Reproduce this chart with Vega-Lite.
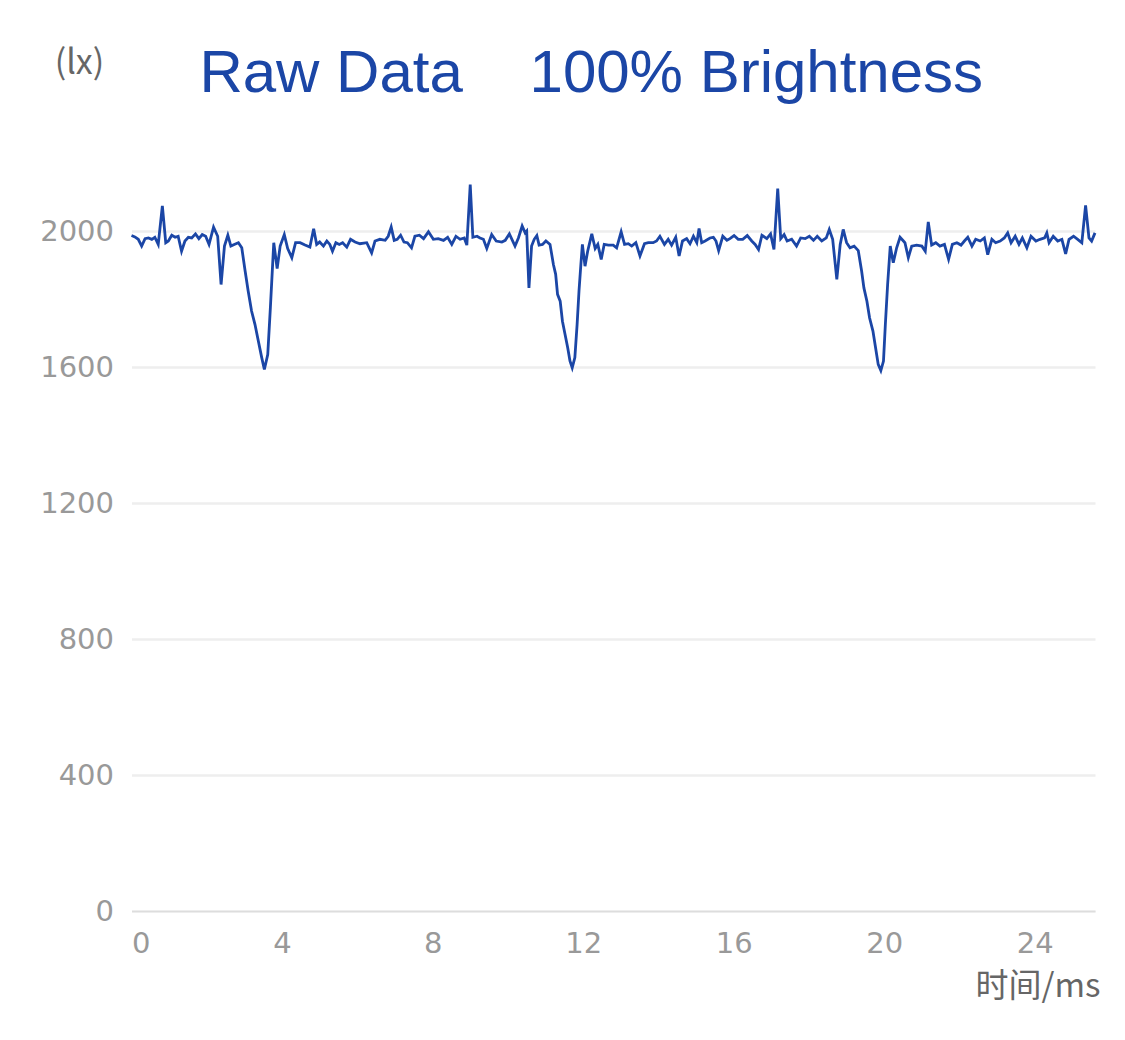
{
"$schema": "https://vega.github.io/schema/vega-lite/v6.json",
"width": 963.5,
"height": 911,
"autosize": {"type": "none"},
"padding": {"left": 131.5, "top": 0, "right": 30, "bottom": 129},
"background": "white",
"config": {"view": {"stroke": null}},
"title": {"text": "Raw Data\u00a0\u00a0\u00a0\u00a0100% Brightness", "font": "Liberation Sans", "fontSize": 60, "fontWeight": "normal", "color": "#1b46a6", "anchor": "middle", "frame": "group", "dx": -22, "dy": 57, "offset": -95, "baseline": "alphabetic"},
"data": {"values": [
{"t":0.00,"v":1987},{"t":0.09,"v":1983},{"t":0.18,"v":1976},{"t":0.27,"v":1956},{"t":0.36,"v":1978},{"t":0.45,"v":1980},{"t":0.54,"v":1976},{"t":0.62,"v":1982},{"t":0.71,"v":1961},{"t":0.82,"v":2074},{"t":0.91,"v":1966},{"t":0.98,"v":1971},{"t":1.07,"v":1988},{"t":1.16,"v":1982},{"t":1.24,"v":1985},{"t":1.33,"v":1941},{"t":1.42,"v":1971},{"t":1.51,"v":1982},{"t":1.60,"v":1980},{"t":1.70,"v":1992},{"t":1.79,"v":1978},{"t":1.88,"v":1990},{"t":1.97,"v":1985},{"t":2.06,"v":1961},{"t":2.18,"v":2012},{"t":2.29,"v":1985},{"t":2.38,"v":1843},{"t":2.47,"v":1956},{"t":2.56,"v":1988},{"t":2.64,"v":1956},{"t":2.73,"v":1961},{"t":2.84,"v":1966},{"t":2.93,"v":1951},{"t":3.02,"v":1882},{"t":3.10,"v":1824},{"t":3.19,"v":1765},{"t":3.28,"v":1726},{"t":3.37,"v":1677},{"t":3.46,"v":1628},{"t":3.53,"v":1593},{"t":3.62,"v":1637},{"t":3.69,"v":1775},{"t":3.78,"v":1966},{"t":3.87,"v":1890},{"t":3.95,"v":1956},{"t":4.06,"v":1990},{"t":4.15,"v":1949},{"t":4.26,"v":1922},{"t":4.36,"v":1966},{"t":4.48,"v":1966},{"t":4.61,"v":1959},{"t":4.74,"v":1953},{"t":4.84,"v":2007},{"t":4.92,"v":1961},{"t":5.00,"v":1968},
{"t":5.10,"v":1956},{"t":5.19,"v":1971},{"t":5.27,"v":1961},{"t":5.34,"v":1941},{"t":5.43,"v":1966},{"t":5.52,"v":1961},{"t":5.61,"v":1966},{"t":5.72,"v":1953},{"t":5.82,"v":1976},{"t":5.94,"v":1968},{"t":6.07,"v":1963},{"t":6.25,"v":1966},{"t":6.38,"v":1936},{"t":6.47,"v":1971},{"t":6.60,"v":1976},{"t":6.74,"v":1973},{"t":6.82,"v":1985},{"t":6.90,"v":2012},{"t":6.98,"v":1973},{"t":7.06,"v":1976},{"t":7.15,"v":1988},{"t":7.24,"v":1968},{"t":7.33,"v":1966},{"t":7.44,"v":1951},{"t":7.53,"v":1985},{"t":7.65,"v":1988},{"t":7.76,"v":1978},{"t":7.89,"v":1998},{"t":8.02,"v":1976},{"t":8.15,"v":1978},{"t":8.29,"v":1973},{"t":8.40,"v":1982},{"t":8.51,"v":1961},{"t":8.62,"v":1985},{"t":8.73,"v":1976},{"t":8.84,"v":1980},{"t":8.91,"v":1959},{"t":9.00,"v":2137},{"t":9.07,"v":1982},{"t":9.18,"v":1985},{"t":9.26,"v":1980},{"t":9.35,"v":1976},{"t":9.44,"v":1949},{"t":9.57,"v":1990},{"t":9.69,"v":1971},{"t":9.84,"v":1968},{"t":9.93,"v":1973},{"t":10.04,"v":1992},{"t":10.19,"v":1956},
{"t":10.28,"v":1980},{"t":10.38,"v":2015},{"t":10.46,"v":1995},{"t":10.50,"v":2000},{"t":10.56,"v":1833},{"t":10.63,"v":1956},{"t":10.70,"v":1976},{"t":10.77,"v":1987},{"t":10.83,"v":1959},{"t":10.92,"v":1961},{"t":11.01,"v":1971},{"t":11.12,"v":1961},{"t":11.21,"v":1902},{"t":11.27,"v":1873},{"t":11.32,"v":1814},{"t":11.39,"v":1794},{"t":11.45,"v":1735},{"t":11.52,"v":1696},{"t":11.59,"v":1657},{"t":11.65,"v":1618},{"t":11.71,"v":1598},{"t":11.78,"v":1628},{"t":11.84,"v":1726},{"t":11.89,"v":1824},{"t":11.94,"v":1902},{"t":11.98,"v":1961},{"t":12.05,"v":1897},{"t":12.12,"v":1941},{"t":12.23,"v":1992},{"t":12.32,"v":1949},{"t":12.39,"v":1961},{"t":12.48,"v":1917},{"t":12.56,"v":1961},{"t":12.67,"v":1959},{"t":12.80,"v":1959},{"t":12.89,"v":1951},{"t":13.01,"v":1998},{"t":13.10,"v":1961},{"t":13.20,"v":1963},{"t":13.29,"v":1956},{"t":13.40,"v":1966},{"t":13.51,"v":1927},{"t":13.63,"v":1963},{"t":13.73,"v":1966},{"t":13.86,"v":1966},{"t":13.95,"v":1971},{"t":14.04,"v":1985},{"t":14.16,"v":1961},{"t":14.26,"v":1976},{"t":14.35,"v":1959},{"t":14.46,"v":1982},{"t":14.55,"v":1927},{"t":14.64,"v":1971},{"t":14.75,"v":1978},{"t":14.84,"v":1963},{"t":14.93,"v":1985},{"t":15.02,"v":1966},{"t":15.08,"v":2008},{"t":15.15,"v":1966},{"t":15.24,"v":1971},{"t":15.37,"v":1980},
{"t":15.46,"v":1982},{"t":15.53,"v":1971},{"t":15.60,"v":1943},{"t":15.71,"v":1985},{"t":15.82,"v":1973},{"t":15.90,"v":1978},{"t":16.01,"v":1987},{"t":16.12,"v":1976},{"t":16.24,"v":1976},{"t":16.36,"v":1987},{"t":16.48,"v":1971},{"t":16.57,"v":1961},{"t":16.66,"v":1946},{"t":16.75,"v":1988},{"t":16.88,"v":1978},{"t":16.98,"v":1992},{"t":17.07,"v":1946},{"t":17.17,"v":2125},{"t":17.25,"v":1978},{"t":17.34,"v":1990},{"t":17.42,"v":1971},{"t":17.54,"v":1976},{"t":17.67,"v":1956},{"t":17.78,"v":1980},{"t":17.90,"v":1978},{"t":18.01,"v":1985},{"t":18.12,"v":1973},{"t":18.22,"v":1985},{"t":18.34,"v":1971},{"t":18.46,"v":1980},{"t":18.54,"v":2005},{"t":18.63,"v":1976},{"t":18.74,"v":1858},{"t":18.83,"v":1961},{"t":18.91,"v":2005},{"t":19.00,"v":1966},{"t":19.09,"v":1951},{"t":19.20,"v":1956},{"t":19.31,"v":1943},{"t":19.40,"v":1882},{"t":19.46,"v":1833},{"t":19.54,"v":1794},{"t":19.61,"v":1745},{"t":19.70,"v":1706},{"t":19.77,"v":1657},{"t":19.84,"v":1608},{"t":19.91,"v":1590},{"t":19.98,"v":1618},{"t":20.03,"v":1726},{"t":20.09,"v":1843},{"t":20.16,"v":1956},{"t":20.24,"v":1907},{"t":20.33,"v":1951},{"t":20.42,"v":1982},{"t":20.51,"v":1971},{"t":20.55,"v":1966},
{"t":20.64,"v":1922},{"t":20.73,"v":1956},{"t":20.86,"v":1959},{"t":21.00,"v":1956},{"t":21.09,"v":1941},{"t":21.17,"v":2027},{"t":21.26,"v":1959},{"t":21.37,"v":1966},{"t":21.48,"v":1956},{"t":21.60,"v":1961},{"t":21.71,"v":1917},{"t":21.81,"v":1961},{"t":21.93,"v":1966},{"t":22.04,"v":1959},{"t":22.13,"v":1971},{"t":22.22,"v":1982},{"t":22.33,"v":1956},{"t":22.43,"v":1976},{"t":22.55,"v":1971},{"t":22.66,"v":1980},{"t":22.75,"v":1931},{"t":22.86,"v":1976},{"t":22.96,"v":1966},{"t":23.08,"v":1971},{"t":23.19,"v":1980},{"t":23.28,"v":1995},{"t":23.37,"v":1966},{"t":23.48,"v":1985},{"t":23.58,"v":1961},{"t":23.67,"v":1980},{"t":23.79,"v":1951},{"t":23.90,"v":1985},{"t":24.03,"v":1971},{"t":24.14,"v":1976},{"t":24.26,"v":1980},{"t":24.32,"v":1995},{"t":24.38,"v":1966},{"t":24.49,"v":1985},{"t":24.61,"v":1971},{"t":24.72,"v":1976},{"t":24.82,"v":1933},{"t":24.91,"v":1976},{"t":25.03,"v":1985},{"t":25.14,"v":1976},{"t":25.25,"v":1966},{"t":25.35,"v":2076},{"t":25.44,"v":1980},{"t":25.51,"v":1971},{"t":25.60,"v":1995}
]},
"mark": {"type": "line", "color": "#1b46a6", "strokeWidth": 2.8, "interpolate": "linear"},
"encoding": {
"x": {"field": "t", "type": "quantitative", "scale": {"domain": [0, 25.6], "nice": false},
 "axis": {"values": [0, 4, 8, 12, 16, 20, 24], "format": "d", "domain": true, "domainColor": "#dddddd", "domainWidth": 1.5, "ticks": false, "grid": false, "labelColor": "#999999", "labelFont": "DejaVu Sans", "labelFontSize": 29, "labelPadding": 18, "labelFlush": true, "title": "时间/ms", "titleX": 968.5, "titleY": 85, "titleAlign": "right", "titleBaseline": "alphabetic", "titleColor": "#666666", "titleFont": "Noto Sans CJK SC", "titleFontSize": 33, "titleFontWeight": "normal"}},
"y": {"field": "v", "type": "quantitative", "scale": {"domain": [0, 2680], "nice": false},
 "axis": {"values": [0, 400, 800, 1200, 1600, 2000], "format": "d", "domain": false, "ticks": false, "grid": true, "gridColor": "#eeeeee", "gridWidth": 2.5, "labelColor": "#999999", "labelFont": "DejaVu Sans", "labelFontSize": 29, "labelPadding": 18, "title": "(lx)", "titleAngle": 0, "titleX": -52.5, "titleY": 73, "titleAlign": "center", "titleBaseline": "alphabetic", "titleColor": "#666666", "titleFont": "Noto Sans CJK SC", "titleFontSize": 34, "titleFontWeight": "normal"}}
}
}
